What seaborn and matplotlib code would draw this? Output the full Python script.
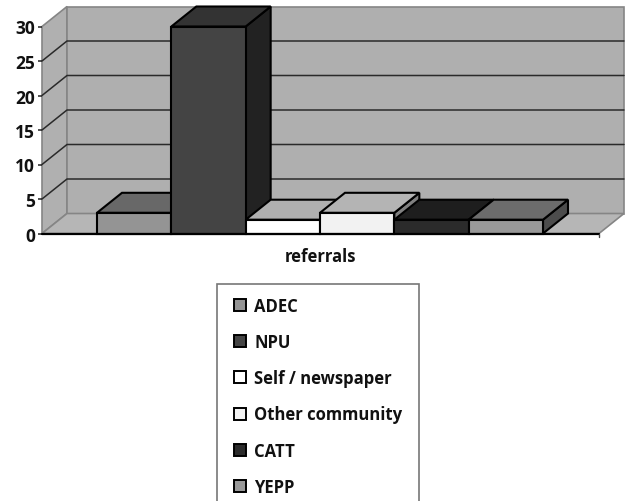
import matplotlib
matplotlib.use("Agg")
import matplotlib.pyplot as plt
from matplotlib.patches import Polygon, Patch, Rectangle
import pandas as pd
import seaborn as sns

group = ["referrals"] * 6
sources = ["ADEC", "NPU", "Self / newspaper", "Other community", "CATT", "YEPP"]
counts = [3, 30, 2, 3, 2, 2]
front_colors = ["#949494", "#444444", "#ffffff", "#f2f2f2", "#2b2b2b", "#999999"]
top_colors = ["#686868", "#333333", "#b0b0b0", "#b4b4b4", "#1e1e1e", "#6c6c6c"]
side_colors = ["#4c4c4c", "#222222", "#808080", "#808080", "#161616", "#4c4c4c"]
y_ticks = [0, 5, 10, 15, 20, 25, 30]

sns.set_theme(style="white")
plt.rcParams["font.family"] = ["Open Sans", "DejaVu Sans"]
plt.rcParams["font.weight"] = "bold"

W, H = 627, 502
fig = plt.figure(figsize=(W / 100, H / 100), dpi=100, facecolor="white")
ax = fig.add_axes([42 / W, 1 - 234.5 / H, (624 - 42) / W, (234.5 - 7.5) / H])
ax.patch.set_alpha(0)

frame = pd.DataFrame({"group": group, "source": sources, "count": counts})
sns.barplot(
    data=frame, x="group", y="count", hue="source", hue_order=sources,
    palette=front_colors, edgecolor="black", linewidth=1.5, saturation=1,
    legend=False, ax=ax,
)

# Axis scales: 557.5 px per x unit, 6.9 px per referral.
px_x, px_y = 557.5, 6.9
x_min = (42 - 320) / px_x
x_max = (624 - 320) / px_x
depth_x, depth_y = 25 / px_x, 20 / px_y
top_val = y_ticks[-1]
ax.set_xlim(x_min, x_max)
ax.set_ylim(0, top_val + depth_y)

# Chart box: side wall, floor and back wall.
wall_edge = "#858585"
ax.add_patch(Polygon([(x_min, 0), (x_min + depth_x, depth_y), (x_min + depth_x, top_val + depth_y), (x_min, top_val)],
                     fc="#b0b0b0", ec=wall_edge, lw=1.2, zorder=0.5, clip_on=False))
ax.add_patch(Polygon([(x_min + depth_x, depth_y), (x_max, depth_y), (x_max, top_val + depth_y), (x_min + depth_x, top_val + depth_y)],
                     fc="#afafaf", ec=wall_edge, lw=1.2, zorder=0.5, clip_on=False))
ax.add_patch(Polygon([(x_min, 0), (x_min + depth_x, depth_y), (x_max, depth_y), (x_max - depth_x, 0)],
                     fc="#b6b6b6", ec=wall_edge, lw=1.2, zorder=0.6, clip_on=False))

# Gridlines fold from the side wall onto the back wall.
for v in y_ticks[1:-1]:
    ax.plot([x_min, x_min + depth_x, x_max], [v, v + depth_y, v + depth_y],
            color="#2a2a2a", lw=1.1, zorder=1, clip_on=False)

# Extrude each bar: side and top faces behind its own front face.
bars = [c[0] for c in ax.containers]
for i, bar in enumerate(bars):
    x0, x1 = bar.get_x(), bar.get_x() + bar.get_width()
    h = bar.get_height()
    z = 3 + i * 0.1
    ax.add_patch(Polygon([(x1, 0), (x1 + depth_x, depth_y), (x1 + depth_x, h + depth_y), (x1, h)],
                         fc=side_colors[i], ec="black", lw=1.5, zorder=z, clip_on=False))
    ax.add_patch(Polygon([(x0, h), (x0 + depth_x, h + depth_y), (x1 + depth_x, h + depth_y), (x1, h)],
                         fc=top_colors[i], ec="black", lw=1.5, zorder=z + 0.01, clip_on=False))
    bar.set_zorder(z + 0.02)
    bar.set_clip_on(False)

# Front edge of the floor with its closing tick.
ax.plot([x_min, x_max - depth_x], [0, 0], color="black", lw=1.6, zorder=5, clip_on=False)
ax.plot([x_max - depth_x, x_max - depth_x], [0, -3 / px_y], color="#444444", lw=1, zorder=5, clip_on=False)

sns.despine(ax=ax, left=True, bottom=True, top=True, right=True)
ax.set_yticks(y_ticks)
ax.tick_params(axis="y", left=True, length=3, width=1.1, color="#222222", pad=2,
               labelsize=12.5, labelcolor="#111111")
ax.tick_params(axis="x", bottom=False, pad=3.5, labelsize=12, labelcolor="#111111")
ax.set_xlabel("")
ax.set_ylabel("")
for t in ax.get_xticklabels() + ax.get_yticklabels():
    t.set_fontweight("bold")

# Legend frame runs past the lower edge of the figure.
fig.add_artist(Rectangle((217 / W, 1 - 520 / H), 202 / W, 235 / H, transform=fig.transFigure,
                         fc="white", ec="#777777", lw=1.2))
handles = [Patch(fc=c, ec="black", lw=1.4) for c in front_colors]
fig.legend(
    handles, sources, loc="upper left",
    bbox_to_anchor=(234 / W, 1 - 297.5 / H), bbox_transform=fig.transFigure,
    frameon=False,
    prop={"family": "Open Sans", "weight": "bold", "size": 12},
    handlelength=0.72, handleheight=0.72, handletextpad=0.48,
    labelspacing=1.1, borderpad=0, borderaxespad=0, labelcolor="#111111",
)

fig.savefig("out.png", dpi=100)
